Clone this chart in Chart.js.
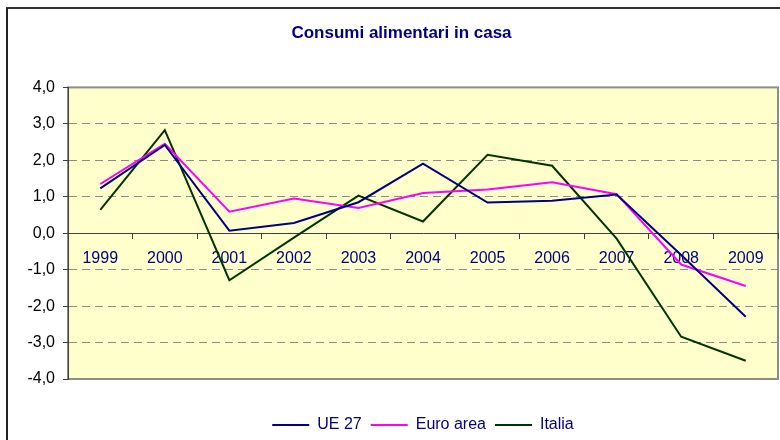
<!DOCTYPE html>
<html>
<head>
<meta charset="utf-8">
<script src="https://cdn.jsdelivr.net/npm/chart.js@4/dist/chart.umd.min.js"></script>
<style>
  html, body { margin: 0; padding: 0; overflow: hidden; background: #fff; }
  #wrap { position: relative; width: 780px; height: 443px; }
  #frame { position: absolute; left: 6px; top: 7px; width: 900px; height: 600px;
           border-left: 2px solid #222; border-top: 2px solid #333; pointer-events: none; }
</style>
</head>
<body>
<div id="wrap">
  <canvas id="chart"></canvas>
  <div id="frame"></div>
</div>
<script>
var years = ["1999", "2000", "2001", "2002", "2003", "2004", "2005", "2006", "2007", "2008", "2009"];
var ue27 = [1.23, 2.42, 0.07, 0.28, 0.85, 1.91, 0.84, 0.89, 1.06, -0.6, -2.29];
var euroArea = [1.35, 2.45, 0.59, 0.95, 0.69, 1.10, 1.20, 1.40, 1.07, -0.86, -1.45];
var italia = [0.64, 2.83, -1.29, -0.12, 1.03, 0.32, 2.15, 1.85, -0.15, -2.84, -3.50];

var plotBg = {
  id: "plotBg",
  beforeDraw: function (chart) {
    var a = chart.chartArea, ctx = chart.ctx;
    ctx.save();
    ctx.fillStyle = "#FFFFCC";
    ctx.fillRect(a.left, a.top, a.right - a.left, a.bottom - a.top);
    ctx.strokeStyle = "#8c8c8c";
    ctx.lineWidth = 2;
    ctx.strokeRect(a.left, a.top, a.right - a.left, a.bottom - a.top);
    ctx.restore();
  }
};

Chart.defaults.font.family = "'Liberation Sans', Arial, sans-serif";
Chart.defaults.font.size = 16;

new Chart(document.getElementById("chart"), {
  type: "line",
  data: {
    labels: years,
    datasets: [
      { label: "UE 27", data: ue27, borderColor: "#000080", backgroundColor: "#000080", borderWidth: 2 },
      { label: "Euro area", data: euroArea, borderColor: "#FF00FF", backgroundColor: "#FF00FF", borderWidth: 2 },
      { label: "Italia", data: italia, borderColor: "#003300", backgroundColor: "#003300", borderWidth: 2 }
    ]
  },
  options: {
    responsive: true,
    maintainAspectRatio: false,
    animation: false,
    layout: { padding: { left: 25, right: 2, top: 0, bottom: 0 } },
    elements: {
      line: { borderWidth: 2, tension: 0 },
      point: { radius: 0, hoverRadius: 0 }
    },
    plugins: {
      title: {
        display: true,
        text: "Consumi alimentari in casa",
        color: "#000080",
        font: { size: 17, weight: "bold" },
        padding: { top: 23, bottom: 44 }
      },
      legend: {
        position: "bottom",
        fullSize: false,
        title: { display: true, text: "", padding: { top: 20, bottom: 0 }, font: { size: 9, lineHeight: 1 } },
        labels: {
          usePointStyle: true,
          pointStyle: "line",
          pointStyleWidth: 37,
          boxHeight: 2,
          padding: 9,
          color: "#000080",
          font: { size: 16, lineHeight: 1 }
        }
      },
      tooltip: { enabled: false }
    },
    scales: {
      x: {
        position: { y: 0 },
        offset: true,
        afterFit: function (s) { s.height = 0; },
        border: { display: true, color: "#404040", width: 1 },
        grid: { display: true, drawOnChartArea: false, drawTicks: true, offset: true, tickLength: 5, tickColor: "#404040" },
        ticks: { color: "#000080", padding: 11, maxRotation: 0, autoSkip: false }
      },
      y: {
        min: -4,
        max: 4,
        afterFit: function (s) { s.width = 43; },
        border: { display: true, color: "#404040", width: 1, dash: [8, 5] },
        grid: {
          color: function (c) {
            var v = c.tick ? c.tick.value : null;
            return (v === 0 || v === 4 || v === -4) ? "rgba(0,0,0,0)" : "#8c8c8c";
          },
          tickColor: "#404040",
          tickLength: 5,
          lineWidth: 1
        },
        ticks: {
          stepSize: 1,
          color: "#000000",
          padding: 8,
          callback: function (v) { return v.toFixed(1).replace(".", ","); }
        }
      }
    }
  },
  plugins: [plotBg]
});
</script>
</body>
</html>
